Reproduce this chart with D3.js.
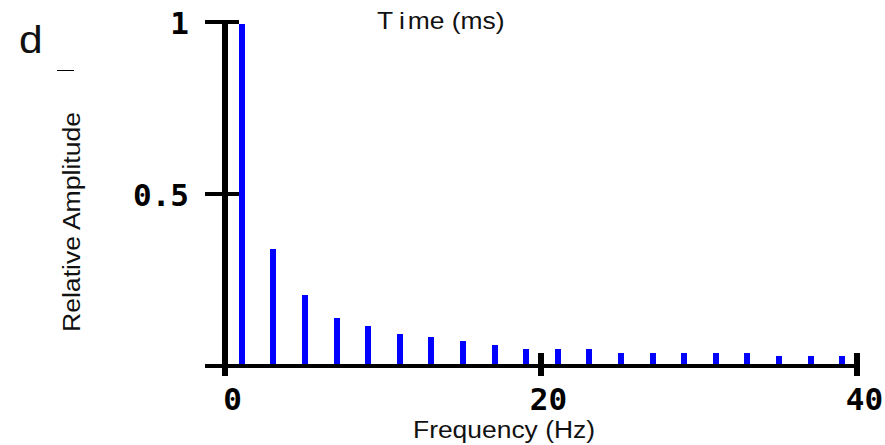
<!DOCTYPE html>
<html>
<head>
<meta charset="utf-8">
<script src="https://cdn.jsdelivr.net/npm/d3@7"></script>
<style>
  html, body { margin: 0; padding: 0; background: #fff; }
  svg { display: block; }
</style>
</head>
<body>
<svg id="chart" width="885" height="445"></svg>
<script>
// ---- data ----
const frequencies = [1, 3, 5, 7, 9, 11, 13, 15, 17, 19, 21, 23, 25, 27, 29, 31, 33, 35, 37, 39];
const amplitudes  = [0.995, 0.34, 0.206, 0.14, 0.116, 0.093, 0.084, 0.073, 0.061, 0.049,
                     0.049, 0.049, 0.038, 0.038, 0.038, 0.038, 0.038, 0.029, 0.029, 0.029];
const xTicks = [0, 20, 40];
const xTickLabels = ["0", "20", "40"];
const yTicks = [0.5, 1];
const yTickLabels = ["0.5", "1"];

// ---- layout ----
const svg = d3.select("#chart");
const x = d3.scaleLinear().domain([0, 40]).range([225, 857]);
const y = d3.scaleLinear().domain([0, 1]).range([366, 22]);

// bars
svg.append("g").selectAll("rect")
  .data(frequencies.map((f, i) => ({ f, a: amplitudes[i] })))
  .join("rect")
  .attr("x", d => Math.round(x(d.f) - 2))
  .attr("width", 6)
  .attr("y", d => y(d.a))
  .attr("height", d => y(0) - y(d.a))
  .attr("fill", "#0000ff")
  .attr("shape-rendering", "crispEdges");

// y axis line (extends down as the 0 tick)
svg.append("rect")
  .attr("x", x(0) - 3).attr("width", 6)
  .attr("y", y(1) - 2).attr("height", 376 - (y(1) - 2))
  .attr("fill", "#000").attr("shape-rendering", "crispEdges");

// x axis line
svg.append("rect")
  .attr("x", 205).attr("width", x(40) - 205)
  .attr("y", y(0) - 2).attr("height", 4)
  .attr("fill", "#000").attr("shape-rendering", "crispEdges");

// y ticks (crossing)
svg.append("g").selectAll("rect")
  .data(yTicks)
  .join("rect")
  .attr("x", 205).attr("width", 34)
  .attr("y", d => y(d) - 2).attr("height", 4)
  .attr("fill", "#000").attr("shape-rendering", "crispEdges");

// x ticks (crossing), except 0 which is the y axis
svg.append("g").selectAll("rect")
  .data(xTicks.filter(t => t !== 0))
  .join("rect")
  .attr("x", d => x(d) - 3).attr("width", 6)
  .attr("y", y(0) - 13).attr("height", 23)
  .attr("fill", "#000").attr("shape-rendering", "crispEdges");

// tick labels via d3 axes (lines hidden)
const tickFont = "'DejaVu Sans Mono', monospace";
const xAxis = d3.axisBottom(x).tickValues(xTicks)
  .tickFormat((d, i) => xTickLabels[i]).tickSize(0).tickPadding(0);
const gx = svg.append("g").attr("transform", `translate(0,${y(0)})`).call(xAxis);
gx.select(".domain").remove();
gx.selectAll("text")
  .attr("y", 44).attr("dy", null).attr("dx", 7)
  .attr("font-family", tickFont).attr("font-weight", "bold")
  .attr("font-size", 31).attr("fill", "#000");

const yAxis = d3.axisLeft(y).tickValues(yTicks)
  .tickFormat((d, i) => yTickLabels[i]).tickSize(0).tickPadding(0);
const gy = svg.append("g").attr("transform", `translate(189,0)`).call(yAxis);
gy.select(".domain").remove();
gy.selectAll("text")
  .attr("x", 0).attr("dy", "0.36em")
  .attr("font-family", tickFont).attr("font-weight", "bold")
  .attr("font-size", 31).attr("fill", "#000");

// titles (glyphs horizontally stretched like the reference)
const textFont = "'Liberation Sans', Arial, Helvetica, sans-serif";
svg.append("text")
  .attr("x", 413).attr("y", 438)
  .attr("textLength", 182).attr("lengthAdjust", "spacingAndGlyphs")
  .attr("font-family", textFont).attr("font-size", 23).attr("fill", "#111")
  .text("Frequency (Hz)");

svg.append("text")
  .attr("transform", "translate(80,332) rotate(-90)")
  .attr("textLength", 220).attr("lengthAdjust", "spacingAndGlyphs")
  .attr("font-family", textFont).attr("font-size", 23).attr("fill", "#111")
  .text("Relative Amplitude");

const tt = svg.append("g").attr("transform", "translate(377,29) scale(1.15,1)")
  .append("text")
  .attr("x", 0).attr("y", 0)
  .attr("font-family", textFont).attr("font-size", 23).attr("fill", "#111");
tt.append("tspan").text("T");
tt.append("tspan").attr("dx", 5).text("i");
tt.append("tspan").attr("dx", 2.5).text("me (ms)");

svg.append("g").attr("transform", "translate(19,53) scale(1.12,1)")
  .append("text")
  .attr("x", 0).attr("y", 0)
  .attr("font-family", textFont).attr("font-size", 38).attr("fill", "#111")
  .text("d");

svg.append("line")
  .attr("x1", 57).attr("x2", 74).attr("y1", 70.5).attr("y2", 70.5)
  .attr("stroke", "#000").attr("stroke-width", 1);
</script>
</body>
</html>
